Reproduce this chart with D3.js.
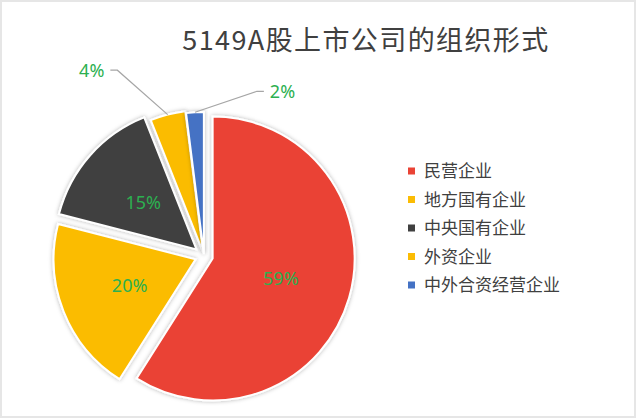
<!DOCTYPE html>
<meta charset="utf-8">
<style>
body { margin: 0; background: #fff; }
text { font-family: "Noto Sans CJK SC", "Noto Sans", sans-serif; }
.title { font-size: 27px; fill: #404040; letter-spacing: 1.4px; }
.legend text { font-size: 17px; fill: #404040; }
.pct { font-size: 18px; fill: #2cb050; font-family: "Noto Sans", sans-serif; }
.leader { fill: none; stroke: #a6a6a6; stroke-width: 1.2px; }
</style>
<svg width="636" height="419"></svg>
<script src="https://d3js.org/d3.v7.min.js"></script>
<script>
var title = "5149A股上市公司的组织形式";
var categories = ["民营企业", "地方国有企业", "中央国有企业", "外资企业", "中外合资经营企业"];
var shares = [59, 20, 15, 4, 2];
var colors = ["#ea4335", "#fbbc04", "#404040", "#fbbc04", "#4472c4"];

// how far each slice is pulled out of the pie
var explode = [9, 9, 10, 4, 2];
// small slices get an outside label: elbow angle (deg) and distance from centre
var outside = { 3: { angle: -25, dist: 205, dir: -1 }, 4: { angle: 17.8, dist: 173, dir: 1 } };

var svg = d3.select("svg"),
    width = +svg.attr("width"),
    height = +svg.attr("height"),
    radius = 142,
    cx = 204, cy = 256;

svg.append("rect")
    .attr("x", 1).attr("y", 1)
    .attr("width", width - 2).attr("height", height - 3)
    .attr("fill", "#fff")
    .attr("stroke", "#e6e6e6")
    .attr("stroke-width", 2);

var defs = svg.append("defs");
defs.append("filter")
    .attr("id", "shadow")
    .attr("x", "-20%").attr("y", "-20%").attr("width", "140%").attr("height", "140%")
  .append("feDropShadow")
    .attr("dx", 0).attr("dy", 0)
    .attr("stdDeviation", 2)
    .attr("flood-color", "#000")
    .attr("flood-opacity", 0.3);

svg.append("text")
    .attr("class", "title")
    .attr("x", 366)
    .attr("y", 50)
    .attr("text-anchor", "middle")
    .text(title);

var pie = d3.pie().sort(null).value(function(d) { return d; });
var arcs = pie(shares);

var arc = d3.arc().innerRadius(0).outerRadius(radius);

function offset(d, i) {
  var a = (d.startAngle + d.endAngle) / 2;
  return [Math.sin(a) * explode[i], -Math.cos(a) * explode[i]];
}

var g = svg.append("g")
    .attr("transform", "translate(" + cx + "," + cy + ")");

var slices = g.selectAll(".slice")
    .data(arcs)
  .enter().append("g")
    .attr("class", "slice")
    .attr("transform", function(d, i) {
      var o = offset(d, i);
      return "translate(" + o[0] + "," + o[1] + ")";
    });

slices.append("path")
    .attr("d", arc)
    .attr("fill", function(d, i) { return colors[i]; })
    .attr("stroke", "#fff")
    .attr("stroke-width", 2)
    .attr("filter", "url(#shadow)");

// labels inside the bigger slices
slices.filter(function(d, i) { return !outside[i]; })
  .append("text")
    .attr("class", "pct")
    .attr("transform", function(d) { return "translate(" + arc.centroid(d) + ")"; })
    .attr("text-anchor", "middle")
    .attr("dy", "0.35em")
    .text(function(d) { return d.data + "%"; });

// leader lines + labels for the small slices
slices.filter(function(d, i) { return !!outside[i]; })
  .each(function(d) {
    var i = arcs.indexOf(d);
    var cfg = outside[i];
    var o = offset(d, i);
    var a = (d.startAngle + d.endAngle) / 2;
    var start = [Math.sin(a) * radius, -Math.cos(a) * radius];
    var ea = cfg.angle * Math.PI / 180;
    var elbow = [Math.sin(ea) * cfg.dist - o[0], -Math.cos(ea) * cfg.dist - o[1]];
    var end = [elbow[0] + cfg.dir * 7, elbow[1]];
    d3.select(this).append("path")
        .attr("class", "leader")
        .attr("d", d3.line()([start, elbow, end]));
    d3.select(this).append("text")
        .attr("class", "pct")
        .attr("x", end[0] + cfg.dir * 6)
        .attr("y", end[1])
        .attr("dy", "0.35em")
        .attr("text-anchor", cfg.dir < 0 ? "end" : "start")
        .text(d.data + "%");
  });

var legend = svg.append("g")
    .attr("class", "legend")
    .attr("transform", "translate(408,171)");

var item = legend.selectAll("g")
    .data(categories)
  .enter().append("g")
    .attr("transform", function(d, i) { return "translate(0," + i * 28.5 + ")"; });

item.append("rect")
    .attr("x", 0).attr("y", -3.5)
    .attr("width", 7).attr("height", 7)
    .attr("fill", function(d, i) { return colors[i]; });

item.append("text")
    .attr("x", 16)
    .attr("dy", "0.36em")
    .text(function(d) { return d; });
</script>
